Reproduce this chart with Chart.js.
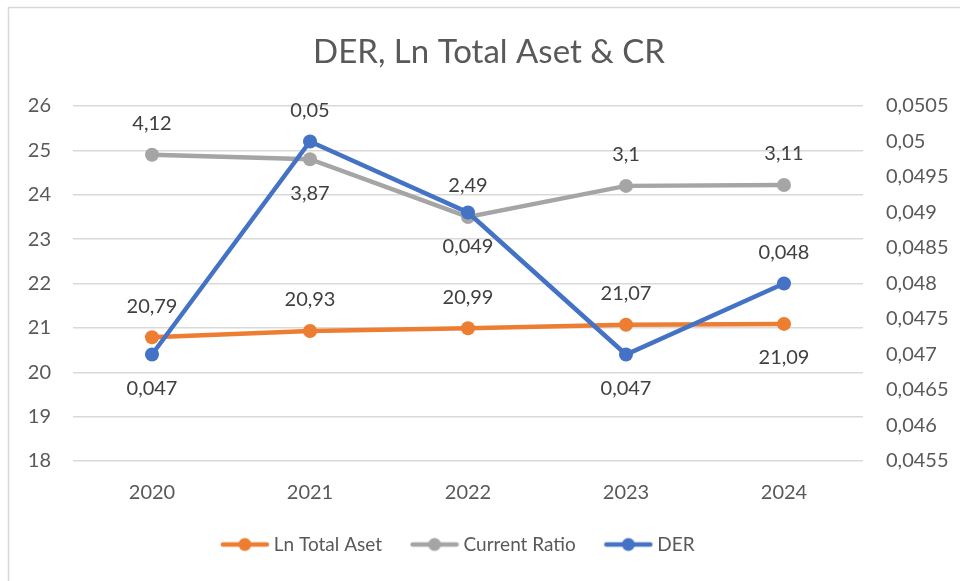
<!DOCTYPE html>
<html>
<head>
<meta charset="utf-8">
<script src="https://cdn.jsdelivr.net/npm/chart.js@4.4.1/dist/chart.umd.min.js"></script>
<style>
  html, body { margin: 0; padding: 0; background: #fff; }
  #wrap { width: 960px; height: 581px; }
</style>
</head>
<body>
<div id="wrap"><canvas id="mix-chart"></canvas></div>
<script>
const years = ['2020', '2021', '2022', '2023', '2024'];

const lnTotalAset = [20.79, 20.93, 20.99, 21.07, 21.09];
const lnTotalAsetLabels = ['20,79', '20,93', '20,99', '21,07', '21,09'];

// plotted on the left axis, but labelled with the ratio itself
const currentRatio = [24.9, 24.8, 23.5, 24.2, 24.22];
const currentRatioLabels = ['4,12', '3,87', '2,49', '3,1', '3,11'];

const der = [0.047, 0.05, 0.049, 0.047, 0.048];
const derLabels = ['0,047', '0,05', '0,049', '0,047', '0,048'];

const FONT = 'Lato';
const TEXT = '#595959';
const FS = 20;

function legendIcon(color) {
    let c = document.createElement('canvas');
    c.width = 50;
    c.height = 16;
    let g = c.getContext('2d');
    g.strokeStyle = color;
    g.lineWidth = 4.5;
    g.lineCap = 'round';
    g.beginPath();
    g.moveTo(3, 8);
    g.lineTo(47, 8);
    g.stroke();
    g.fillStyle = color;
    g.beginPath();
    g.arc(25, 8, 6.5, 0, Math.PI * 2);
    g.fill();
    return c;
}

// value labels above / below each point
const pointLabels = {
    id: 'pointLabels',
    afterDatasetsDraw(chart) {
        let c = chart.ctx;
        c.save();
        c.font = FS + 'px ' + FONT;
        c.fillStyle = '#404040';
        c.textAlign = 'center';
        c.textBaseline = 'middle';
        chart.data.datasets.forEach((ds, i) => {
            let meta = chart.getDatasetMeta(i);
            meta.data.forEach((pt, j) => {
                let dy = ds.labelPos[j] === 'below' ? 34 : -31;
                c.fillText(ds.valueLabels[j], pt.x, pt.y + dy);
            });
        });
        c.restore();
    }
};

const frame = {
    id: 'frame',
    beforeDraw(chart) {
        let c = chart.ctx;
        c.save();
        c.strokeStyle = '#d9d9d9';
        c.lineWidth = 1.5;
        c.beginPath();
        c.moveTo(8.5, 600);
        c.lineTo(8.5, 7.5);
        c.lineTo(1000, 7.5);
        c.stroke();
        c.restore();
    }
};

// fixed legend height, and nudge title / legend sideways like the original
const boxTweaks = {
    id: 'boxTweaks',
    beforeInit(chart) {
        const fit = chart.legend.fit;
        chart.legend.fit = function () {
            fit.bind(chart.legend)();
            this.height = 79;
        };
    },
    afterLayout(chart) {
        chart.titleBlock.left += 18;
        chart.legend.right -= 40;
    }
};

let ctx = document.getElementById('mix-chart');

var chart = new Chart(ctx, {
    type: 'line',
    data: {
        labels: years,
        datasets: [{
            label: 'Ln Total Aset',
            data: lnTotalAset,
            valueLabels: lnTotalAsetLabels,
            labelPos: ['above', 'above', 'above', 'above', 'below'],
            yAxisID: 'y',
            borderColor: '#ED7D31',
            backgroundColor: '#ED7D31',
            order: 3
        }, {
            label: 'Current Ratio',
            data: currentRatio,
            valueLabels: currentRatioLabels,
            labelPos: ['above', 'below', 'above', 'above', 'above'],
            yAxisID: 'y',
            borderColor: '#A5A5A5',
            backgroundColor: '#A5A5A5',
            order: 2
        }, {
            label: 'DER',
            data: der,
            valueLabels: derLabels,
            labelPos: ['below', 'above', 'below', 'below', 'above'],
            yAxisID: 'y1',
            borderColor: '#4472C4',
            backgroundColor: '#4472C4',
            order: 1
        }]
    },
    options: {
        responsive: true,
        maintainAspectRatio: false,
        animation: false,
        layout: {
            padding: 0
        },
        elements: {
            line: { borderWidth: 4.5, tension: 0 },
            point: { pointStyle: 'circle', radius: 7, hoverRadius: 7, borderWidth: 0 }
        },
        scales: {
            x: {
                offset: true,
                grid: { display: false, drawTicks: false },
                border: { display: false },
                ticks: {
                    color: TEXT,
                    font: { family: FONT, size: FS },
                    padding: 20
                },
                afterFit(s) { s.height = 41; }
            },
            y: {
                position: 'left',
                min: 18,
                max: 26,
                ticks: {
                    stepSize: 1,
                    color: TEXT,
                    font: { family: FONT, size: FS },
                    padding: 22
                },
                grid: { color: '#d9d9d9', lineWidth: 1.5, drawTicks: false },
                border: { display: false },
                afterFit(s) { s.width = 73; }
            },
            y1: {
                position: 'right',
                min: 0.0455,
                max: 0.0505,
                ticks: {
                    stepSize: 0.0005,
                    color: TEXT,
                    font: { family: FONT, size: FS },
                    padding: 23,
                    callback: v => parseFloat(v.toFixed(4)).toString().replace('.', ',')
                },
                grid: { display: false, drawTicks: false },
                border: { display: false },
                afterFit(s) { s.width = 97; }
            }
        },
        plugins: {
            title: {
                display: true,
                text: 'DER, Ln Total Aset & CR',
                color: TEXT,
                font: { family: FONT, size: 33, weight: 'normal' },
                padding: { top: 32.2, bottom: 34.2 }
            },
            legend: {
                position: 'bottom',
                labels: {
                    usePointStyle: true,
                    pointStyleWidth: 39,
                    padding: 33,
                    color: TEXT,
                    font: { family: FONT, size: 19 },
                    sort: (a, b) => a.datasetIndex - b.datasetIndex,
                    generateLabels(chart) {
                        let items = Chart.defaults.plugins.legend.labels.generateLabels(chart);
                        items.forEach(it => {
                            it.pointStyle = legendIcon(chart.data.datasets[it.datasetIndex].borderColor);
                        });
                        return items;
                    }
                }
            },
            tooltip: { enabled: false }
        }
    },
    plugins: [pointLabels, frame, boxTweaks]
});
</script>
</body>
</html>
